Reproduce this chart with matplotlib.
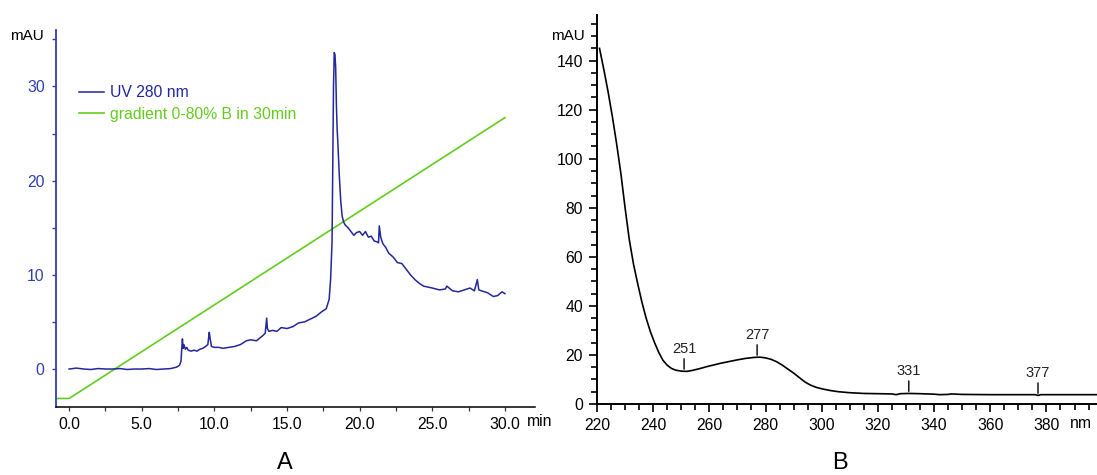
import numpy as np
import matplotlib.pyplot as plt
from matplotlib.ticker import MultipleLocator, FixedLocator

plt.rcParams['font.family'] = ['Liberation Sans', 'DejaVu Sans']

# ---- panel A: chromatogram, UV 280 nm (mAU) vs time (min)
uv_time = [0.0, 0.5, 1.0, 1.5, 2.0, 2.5, 3.0, 3.5, 4.0, 4.5, 5.0, 5.5, 6.0, 6.5,
           7.0, 7.4, 7.6, 7.7, 7.75, 7.8, 7.85, 7.9, 8.0, 8.1, 8.2, 8.4, 8.6,
           8.8, 9.0, 9.2, 9.4, 9.55, 9.65, 9.7, 9.8, 10.0, 10.3, 10.6, 11.0,
           11.4, 11.8, 12.2, 12.5, 12.9, 13.3, 13.5, 13.6, 13.65, 13.75, 14.0,
           14.3, 14.6, 15.0, 15.4, 15.8, 16.2, 16.6, 17.0, 17.4, 17.7, 17.9,
           18.0, 18.1, 18.2, 18.25, 18.3, 18.35, 18.4, 18.45, 18.5, 18.6, 18.7,
           18.8, 18.9, 19.0, 19.2, 19.4, 19.6, 19.8, 20.0, 20.2, 20.4, 20.6,
           20.8, 21.0, 21.2, 21.3, 21.35, 21.45, 21.6, 21.8, 22.0, 22.3, 22.6,
           22.9, 23.2, 23.5, 23.8, 24.1, 24.4, 24.7, 25.0, 25.5, 25.9, 26.0,
           26.4, 26.8, 27.2, 27.6, 27.9, 28.1, 28.2, 28.4, 28.8, 29.2, 29.5,
           29.8, 30.0]
uv_mau = [0.0, 0.1, 0.0, -0.05, 0.05, 0.0, 0.0, 0.05, -0.05, 0.0, 0.0, 0.05,
          -0.05, 0.0, 0.05, 0.2, 0.4, 0.8, 2.0, 3.2, 2.2, 2.6, 2.1, 2.3, 2.0,
          1.9, 2.0, 1.9, 2.1, 2.2, 2.4, 2.6, 3.9, 3.3, 2.4, 2.3, 2.3, 2.2, 2.3,
          2.4, 2.6, 3.0, 3.1, 3.0, 3.5, 3.8, 5.4, 4.3, 4.0, 4.1, 4.0, 4.4, 4.3,
          4.5, 4.9, 5.0, 5.3, 5.6, 6.1, 6.4, 7.4, 9.5, 13.5, 30.0, 33.6, 33.4,
          32.0, 28.0, 25.5, 24.0, 20.5, 17.8, 16.2, 15.6, 15.3, 15.0, 14.6,
          14.2, 14.5, 14.6, 14.2, 14.6, 14.0, 14.1, 13.6, 13.5, 13.4, 15.2,
          14.0, 13.3, 12.9, 12.3, 11.9, 11.3, 11.2, 10.6, 10.0, 9.5, 9.1, 8.8,
          8.7, 8.6, 8.4, 8.5, 8.8, 8.3, 8.2, 8.4, 8.6, 8.3, 9.5, 8.4, 8.3,
          8.1, 7.7, 7.8, 8.2, 8.0]

# gradient in % B
grad_time = [-1.0, 0.0, 30.0]
grad_pct = [0.0, 0.0, 80.0]

# ---- panel B: UV spectrum (mAU) vs wavelength (nm)
wl = [220.9, 222.5, 224.0, 225.5, 227.0, 228.5, 230.0, 231.5, 233.0, 234.5,
      236.0, 237.5, 239.0, 240.5, 242.0, 243.5, 245.0, 246.5, 248.0, 250.0,
      252.0, 254.0, 256.5, 259.0, 261.5, 264.0, 267.0, 270.0, 273.0, 276.0,
      278.0, 280.0, 282.0, 284.0, 286.0, 288.0, 290.0, 292.0, 294.0, 296.0,
      298.0, 300.0, 303.0, 306.0, 310.0, 315.0, 320.0, 325.0, 326.5, 328.0,
      331.0, 335.0, 340.0, 342.0, 345.0, 346.0, 350.0, 360.0, 370.0, 376.0,
      377.0, 378.0, 390.0, 400.0]
absorb = [145.0, 136.0, 127.0, 117.0, 106.0, 94.0, 80.0, 67.0, 57.0, 49.0,
          41.5, 35.0, 29.5, 25.0, 21.0, 17.8, 15.8, 14.5, 13.8, 13.4, 13.3,
          13.7, 14.4, 15.2, 15.9, 16.6, 17.3, 18.0, 18.6, 19.0, 19.1, 18.8,
          18.2, 17.2, 15.8, 14.2, 12.6, 10.8, 9.0, 7.7, 6.8, 6.2, 5.5, 5.0,
          4.6, 4.3, 4.2, 4.1, 3.8, 4.2, 4.3, 4.2, 4.0, 3.8, 3.9, 4.1, 3.9,
          3.8, 3.8, 3.8, 3.5, 3.8, 3.8, 3.8]
peak_nm = [251, 277, 331, 377]

blue = '#23279a'
axblue = '#2f3fb2'
green = '#62cc1e'

fig = plt.figure(figsize=(10.97, 4.75), dpi=100)

# ---------------- A ----------------
axA = fig.add_axes([0.0508, 0.1432, 0.4369, 0.7937])
axG = axA.twinx()
axA.set_zorder(axG.get_zorder() + 1)
axA.patch.set_visible(False)

lu, = axA.plot(uv_time, uv_mau, color=blue, lw=1.1, label='UV 280 nm')
lg, = axG.plot(grad_time, grad_pct, color=green, lw=1.2,
               label='gradient 0-80% B in 30min')

axA.set_xlim(-0.92, 32.07)
axA.set_ylim(-4.03, 36.0)
axG.set_ylim(-2.42, 104.97)
axG.axis('off')

for s in ['top', 'right']:
    axA.spines[s].set_visible(False)
axA.spines['left'].set_color(axblue)
axA.spines['left'].set_linewidth(1.3)
axA.spines['bottom'].set_linewidth(1.1)

axA.set_xticks([0, 5, 10, 15, 20, 25, 30])
axA.set_xticklabels(['0.0', '5.0', '10.0', '15.0', '20.0', '25.0', '30.0'])
axA.xaxis.set_minor_locator(MultipleLocator(2.5))
axA.set_yticks([0, 10, 20, 30])
axA.yaxis.set_minor_locator(FixedLocator([5, 15, 25, 35]))
axA.tick_params(axis='x', which='both', length=3, width=0.9, labelsize=11.3,
                pad=4, colors='#333333', labelcolor='black')
axA.tick_params(axis='y', which='both', length=3, width=1.0, labelsize=11.3,
                pad=5, colors=axblue)
axA.text(-0.025, 0.985, 'mAU', transform=axA.transAxes, ha='right',
         va='center', fontsize=11)
fig.text(527 / 1097, 1 - 422 / 475, 'min', ha='left', va='center',
         fontsize=11.3)

axA.legend(handles=[lu, lg], loc='upper left', bbox_to_anchor=(0.048, 0.853),
           frameon=False, fontsize=11.3, handlelength=1.6, handletextpad=0.4,
           labelspacing=0.42, borderpad=0, borderaxespad=0,
           labelcolor='linecolor')

fig.text(285 / 1097, 1 - 463 / 475, 'A', ha='center', va='center',
         fontsize=17)

# ---------------- B ----------------
axB = fig.add_axes([0.5442, 0.1495, 0.4558, 0.8189])
axB.plot(wl, absorb, color='black', lw=1.2)
axB.set_xlim(220, 398)
axB.set_ylim(0, 158.6)
for s in ['top', 'right']:
    axB.spines[s].set_visible(False)
axB.spines['left'].set_linewidth(1.4)
axB.spines['bottom'].set_linewidth(1.4)

axB.set_xticks(np.arange(220, 381, 20))
axB.xaxis.set_minor_locator(MultipleLocator(5))
axB.set_yticks(np.arange(0, 141, 20))
axB.yaxis.set_minor_locator(MultipleLocator(5))
axB.tick_params(axis='both', which='major', length=6, width=1.2,
                labelsize=11.3, pad=4)
axB.tick_params(axis='both', which='minor', length=4.5, width=1.2)
axB.text(-0.025, 150 / 158.6, 'mAU', transform=axB.transAxes, ha='right',
         va='center', fontsize=11)
fig.text(1070 / 1097, 1 - 423 / 475, 'nm', ha='left', va='center',
         fontsize=11.3)

for p in peak_nm:
    v = np.interp(p, wl, absorb)
    axB.annotate('', xy=(p, v), xytext=(0, 9), textcoords='offset points',
                 arrowprops=dict(arrowstyle='-', color='black', lw=1.0,
                                 shrinkA=0, shrinkB=1.5))
    axB.annotate(str(p), xy=(p, v), xytext=(0, 11), textcoords='offset points',
                 ha='center', va='bottom', fontsize=10.5, color='#222222')

fig.text(840 / 1097, 1 - 463 / 475, 'B', ha='center', va='center',
         fontsize=17)

fig.savefig('out.png', dpi=100)
